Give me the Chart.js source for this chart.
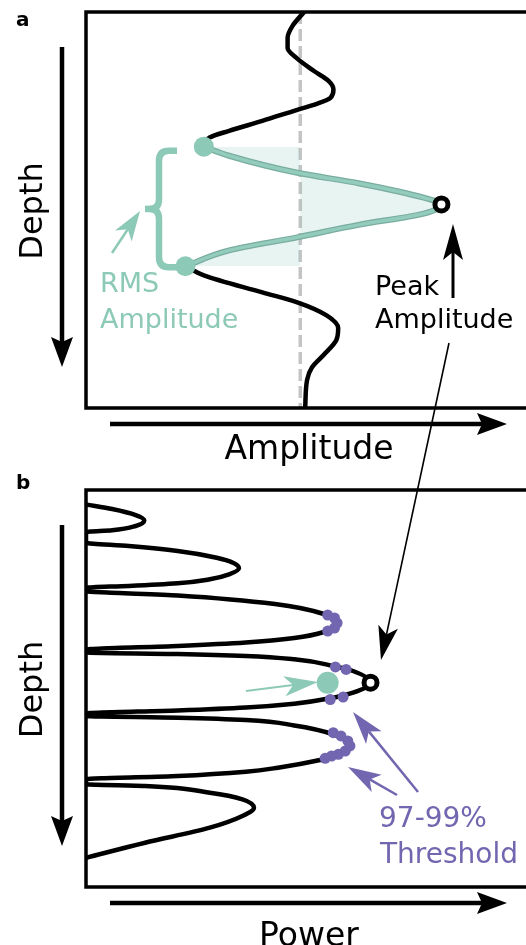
<!DOCTYPE html>
<html>
<head>
<meta charset="utf-8">
<script src="https://cdn.jsdelivr.net/npm/chart.js@4.4.0/dist/chart.umd.min.js"></script>
<style>
html, body { margin: 0; padding: 0; background: #fff; overflow: hidden; }
canvas { position: absolute; left: 0; top: 0; }
</style>
</head>
<body>
<canvas id="panelA" width="526" height="945"></canvas>
<canvas id="panelB" width="526" height="945"></canvas>
<script>
// panel a: amplitude (x, zero at dashed line) vs depth (0 top .. 100 bottom)
const topAmp = [0.018, -0.036, -0.059, -0.059, -0.018, 0.064, 0.132, 0.155, 0.141, 0.077, -0.014, -0.177, -0.332, -0.423, -0.45];
const topDepth = [0, 3.5, 6.5, 9.1, 11.6, 14.9, 17.4, 19.6, 21.7, 23.2, 24.7, 27.5, 30, 31.7, 34.0];
const rmsAmp = [-0.45, -0.332, -0.014, 0.277, 0.577, 0.659, 0.577, 0.277, -0.014, -0.332, -0.536];
const rmsDepth = [34.0, 36.3, 40.6, 43.3, 46.9, 48.6, 50.9, 53.7, 56.9, 60.2, 64.2];
const bottomAmp = [-0.536, -0.45, -0.177, -0.014, 0.123, 0.177, 0.168, 0.109, 0.055, 0.032, 0.023];
const bottomDepth = [64.2, 66.5, 70.8, 73.3, 76.6, 79.8, 82.9, 86.6, 89.7, 92.9, 100];
const rmsDotAmp = [-0.45, -0.536];
const rmsDotDepth = [34.0, 64.2];
const peakAmp = [0.659];
const peakDepth = [48.6];

// panel b: power (x, 0..1) vs depth
const powerVal = [0, 0.061, 0.116, 0.136, 0.116, 0.061, 0,
  0, 0.1, 0.214, 0.305, 0.343, 0.357, 0.334, 0.289, 0.214, 0.1, 0,
  0, 0.214, 0.441, 0.555, 0.584, 0.555, 0.486, 0.373, 0.214, 0,
  0, 0.214, 0.373, 0.486, 0.577, 0.623, 0.664, 0.623, 0.577, 0.486, 0.373, 0.214, 0,
  0, 0.214, 0.373, 0.486, 0.577, 0.616, 0.584, 0.555, 0.448, 0.373, 0.214, 0,
  0, 0.138, 0.289, 0.365, 0.392, 0.365, 0.289, 0.138, 0];
const powerDepth = [3.65, 4.79, 6.3, 7.63, 9.07, 10.15, 10.58,
  13.27, 14.1, 15.37, 17.05, 18.31, 19.72, 21.23, 22.49, 23.5, 24.18, 24.6,
  25.44, 26.57, 28.72, 31.23, 33.5, 35.77, 37.28, 38.41, 39.29, 40.18,
  40.93, 41.31, 41.81, 42.65, 44.33, 45.59, 48.54, 51.06, 52.32, 53.83, 54.79, 55.54, 56.3,
  56.93, 57.36, 57.93, 59.32, 61.54, 64.06, 67.0, 67.83, 69.95, 70.96, 72.04, 72.87,
  74.13, 74.56, 76.25, 77.91, 80.03, 82.12, 85.06, 88.84, 92.62];
const threshPower = [0.564, 0.58, 0.586, 0.58, 0.564, 0.582, 0.607, 0.6, 0.57, 0.577, 0.595, 0.611, 0.616, 0.605, 0.589, 0.573, 0.558];
const threshDepth = [31.49, 32.24, 33.5, 34.76, 35.52, 44.58, 45.21, 52.14, 52.77, 61.13, 61.96, 63.22, 64.48, 65.74, 66.57, 67.0, 67.58];
const rmsPower = [0.564];
const rmsPowerDepth = [48.54];
const peakPower = [0.664];
const peakPowerDepth = [48.54];

const TEAL = '#8dc9b7';
const PURPLE = '#7366b0';
const FONT = '"DejaVu Sans", Verdana, sans-serif';

function pts(xs, ds) {
    return xs.map((x, i) => ({ x: x, y: ds[i] }));
}

function arrow(ctx, x0, y0, x1, y1, o) {
    const dx = x1 - x0, dy = y1 - y0, len = Math.hypot(dx, dy);
    const ux = dx / len, uy = dy / len, nx = -uy, ny = ux;
    const bx = x1 - ux * o.head, by = y1 - uy * o.head;
    const mx = x1 - ux * (o.head - o.notch), my = y1 - uy * (o.head - o.notch);
    ctx.save();
    ctx.strokeStyle = o.color;
    ctx.fillStyle = o.color;
    ctx.lineWidth = o.width;
    ctx.beginPath();
    ctx.moveTo(x0, y0);
    ctx.lineTo(mx, my);
    ctx.stroke();
    ctx.beginPath();
    ctx.moveTo(x1, y1);
    ctx.lineTo(bx + nx * o.half, by + ny * o.half);
    ctx.lineTo(mx, my);
    ctx.lineTo(bx - nx * o.half, by - ny * o.half);
    ctx.closePath();
    ctx.fill();
    ctx.restore();
}

const axisHead = { color: '#000', width: 4.5, head: 30, half: 11, notch: 5 };

function drawFrame(chart, letter, letterY, xLabel, labelY) {
    const ctx = chart.ctx;
    const a = chart.chartArea;
    ctx.save();
    ctx.strokeStyle = '#000';
    ctx.lineWidth = 3.5;
    ctx.beginPath();
    ctx.moveTo(530, a.top);
    ctx.lineTo(a.left, a.top);
    ctx.lineTo(a.left, a.bottom);
    ctx.lineTo(530, a.bottom);
    ctx.stroke();

    ctx.fillStyle = '#000';
    ctx.font = 'bold 20px ' + FONT;
    ctx.textAlign = 'left';
    ctx.fillText(letter, 16, letterY);

    arrow(ctx, 62, a.top + 35, 62, a.bottom - 41, axisHead);
    arrow(ctx, 110, a.bottom + 16, 507, a.bottom + 16, axisHead);

    ctx.font = '33px ' + FONT;
    ctx.textAlign = 'center';
    ctx.fillText(xLabel, 309, labelY);
    ctx.save();
    ctx.translate(42, (a.top + a.bottom) / 2 + 1);
    ctx.rotate(-Math.PI / 2);
    ctx.font = '32px ' + FONT;
    ctx.fillText('Depth', 0, 0);
    ctx.restore();
    ctx.restore();
}

const notesA = {
    id: 'notesA',
    afterDraw(chart) {
        const ctx = chart.ctx;
        drawFrame(chart, 'a', 26, 'Amplitude', 459);
        const ys = chart.scales.y;
        const yTop = ys.getPixelForValue(rmsDotDepth[0]) + 4;
        const yBot = ys.getPixelForValue(rmsDotDepth[1]) + 1;
        const yMid = (yTop + yBot) / 2;

        // brace marking the RMS window
        ctx.save();
        ctx.strokeStyle = TEAL;
        ctx.lineWidth = 6.5;
        ctx.lineJoin = 'round';
        ctx.beginPath();
        ctx.moveTo(177, yTop);
        ctx.lineTo(169, yTop);
        ctx.quadraticCurveTo(159, yTop, 159, yTop + 10);
        ctx.lineTo(159, yMid - 10);
        ctx.quadraticCurveTo(159, yMid, 150, yMid);
        ctx.quadraticCurveTo(159, yMid, 159, yMid + 10);
        ctx.lineTo(159, yBot - 10);
        ctx.quadraticCurveTo(159, yBot, 169, yBot);
        ctx.lineTo(178, yBot);
        ctx.stroke();
        ctx.beginPath();
        ctx.moveTo(145, yMid);
        ctx.lineTo(155, yMid);
        ctx.stroke();
        ctx.restore();

        arrow(ctx, 112, 253, 140, 211, { color: TEAL, width: 2.5, head: 30, half: 10, notch: 8 });
        ctx.save();
        ctx.font = '27px ' + FONT;
        ctx.textAlign = 'left';
        ctx.fillStyle = TEAL;
        ctx.fillText('RMS', 100, 292);
        ctx.fillText('Amplitude', 100, 328);
        ctx.fillStyle = '#000';
        ctx.fillText('Peak', 375, 295);
        ctx.fillText('Amplitude', 375, 328);
        ctx.restore();
        arrow(ctx, 453, 298, 453, 224, { color: '#000', width: 3, head: 36, half: 10, notch: 8 });
    }
};

const notesB = {
    id: 'notesB',
    afterDraw(chart) {
        const ctx = chart.ctx;
        drawFrame(chart, 'b', 489, 'Power', 946);
        arrow(ctx, 246, 691, 318, 682, { color: TEAL, width: 2, head: 34, half: 10, notch: 9 });
        arrow(ctx, 418, 792, 353, 712, { color: PURPLE, width: 2.5, head: 33, half: 10, notch: 8 });
        arrow(ctx, 397, 795, 348, 767, { color: PURPLE, width: 2.5, head: 33, half: 10, notch: 8 });
        arrow(ctx, 449, 343, 381, 660, { color: '#000', width: 1.6, head: 34, half: 10, notch: 8 });
        ctx.save();
        ctx.font = '28px ' + FONT;
        ctx.textAlign = 'left';
        ctx.fillStyle = PURPLE;
        ctx.fillText('97-99%', 379, 827);
        ctx.fillText('Threshold', 380, 863);
        ctx.restore();
    }
};

function baseOptions(pad, xMin, xMax) {
    return {
        responsive: false,
        animation: false,
        events: [],
        indexAxis: 'y',
        layout: { padding: pad },
        plugins: { legend: { display: false }, tooltip: { enabled: false } },
        scales: {
            x: { type: 'linear', min: xMin, max: xMax, display: false },
            y: { type: 'linear', min: 0, max: 100, reverse: true, display: false }
        }
    };
}

const line = (data, color, width, extra) => Object.assign({
    data: data, borderColor: color, borderWidth: width, pointRadius: 0,
    cubicInterpolationMode: 'monotone', fill: false, clip: 0
}, extra || {});

const dots = (data, radius, fillColor, extra) => Object.assign({
    data: data, showLine: false, fill: false, pointRadius: radius, pointBorderWidth: 0,
    pointBackgroundColor: fillColor, pointBorderColor: fillColor
}, extra || {});

new Chart(document.getElementById('panelA'), {
    type: 'line',
    data: {
        datasets: [
            dots(pts(peakAmp, peakDepth), 6.5, '#fff', { pointBorderWidth: 5, pointBorderColor: '#000' }),
            dots(pts(rmsDotAmp, rmsDotDepth), 10, TEAL),
            line(pts(rmsAmp, rmsDepth), '#93ccbc', 3.5),
            // shaded area between the RMS window and zero amplitude
            line(pts(rmsAmp, rmsDepth), '#79ad9e', 6, { fill: 'origin', backgroundColor: 'rgba(141,201,183,0.2)' }),
            line(pts(topAmp, topDepth), '#000', 4.5),
            line(pts(bottomAmp, bottomDepth), '#000', 4.5),
            line(pts([0, 0], [0, 100]), '#c4c4c4', 3.5, { borderDash: [12, 5] })
        ]
    },
    options: baseOptions({ left: 86, top: 12, right: 0, bottom: 537 }, -1, 1),
    plugins: [notesA]
});

new Chart(document.getElementById('panelB'), {
    type: 'line',
    data: {
        datasets: [
            dots(pts(peakPower, peakPowerDepth), 6.5, '#fff', { pointBorderWidth: 5, pointBorderColor: '#000' }),
            dots(pts(rmsPower, rmsPowerDepth), 11, TEAL),
            dots(pts(threshPower, threshDepth), 5.5, PURPLE),
            line(pts(powerVal, powerDepth), '#000', 4.5)
        ]
    },
    options: baseOptions({ left: 86, top: 490, right: 0, bottom: 58 }, 0, 1),
    plugins: [notesB]
});
</script>
</body>
</html>
